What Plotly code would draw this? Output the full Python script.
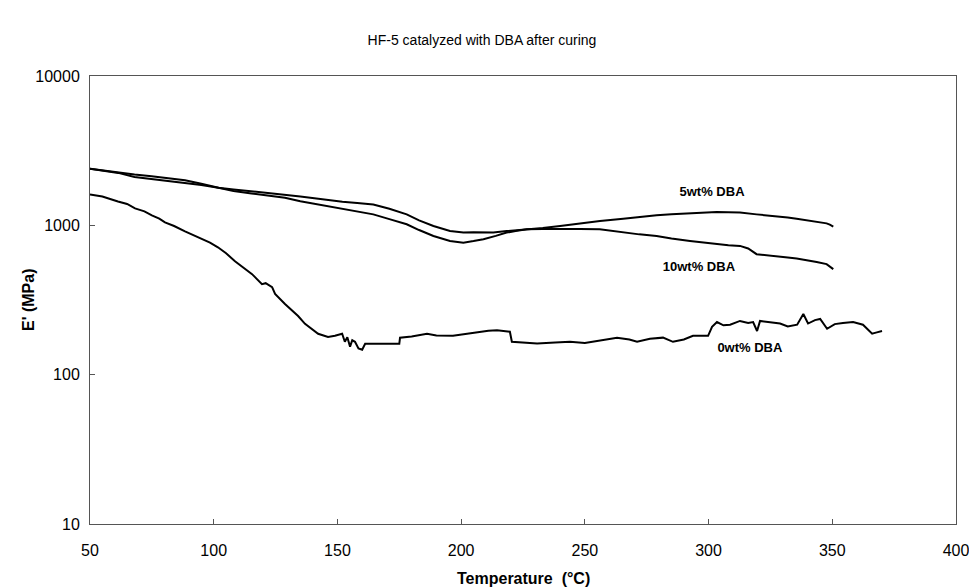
import plotly.graph_objects as go

# ---- data ----
x_0wt = [50, 55, 61.3, 65, 68.2, 72, 75, 78, 80.3, 84, 88.4, 92, 95.3, 98.5, 101.7, 105, 108.6, 112, 115.5,
         119.5, 121, 123.6, 124.8, 128.8, 131, 134.1, 136.9, 139, 142.2, 146.2, 149, 151.9, 153, 154, 155.1,
         156, 157.1, 158.5, 160, 161.2, 169.2, 175, 175.3, 180, 186.2, 190, 196.7, 202, 207.6, 211, 214.5,
         219.7, 220.5, 225, 230.7, 238, 244, 250, 256, 263, 268, 271.1, 276.3, 281.6, 285.6, 290, 293.7,
         299.8, 301.4, 303.4, 306, 308.7, 312.7, 316, 318, 319.6, 320.8, 325, 328.9, 332, 335.8, 338.3,
         340.2, 343, 345.1, 347.9, 351, 354.3, 358.4, 362.4, 366.1, 368, 370.1]
y_0wt = [1610, 1560, 1445, 1390, 1298, 1240, 1166, 1110, 1047, 990, 912, 860, 807, 765, 713, 650, 575, 520, 471,
         404, 410, 386, 347, 297, 275, 247, 219, 205, 188, 179, 182, 188, 166, 178, 154,
         170, 166, 150, 147, 161, 161, 161, 177, 180, 188, 183, 182, 188, 194, 197, 198,
         194, 166, 164, 162, 164, 166, 163, 170, 177, 172, 166, 174, 177, 166, 172, 182,
         182, 209, 225, 214, 216, 229, 222, 225, 196, 229, 224, 220, 210, 216, 255,
         220, 232, 236, 203, 218, 222, 225, 216, 188, 192, 196]

x_5wt = [50, 55, 61.4, 68, 74.9, 81, 88.4, 95, 101.9, 108, 115.3, 122, 128.8, 135, 142.3, 147, 152, 158, 164.5,
         171, 178, 183, 188.8, 195.5, 200.9, 205, 209, 213, 218.4, 222, 226.5, 233, 240, 248, 256.1, 265.5,
         272, 279, 285, 292.5, 298, 303.3, 308, 312.7, 319.4, 323, 327.5, 332, 335.6, 340, 343.7, 347.7,
         349, 350.4]
y_5wt = [2390, 2330, 2245, 2190, 2133, 2070, 2004, 1900, 1783, 1740, 1693, 1650, 1610, 1560, 1507, 1470, 1440,
         1410, 1380, 1290, 1184, 1080, 989, 916, 894, 900, 902, 895, 916, 925, 940, 960, 989, 1030, 1069, 1108,
         1140, 1166, 1185, 1202, 1215, 1227, 1222, 1218, 1184, 1170, 1153, 1130, 1108, 1080, 1052, 1031,
         1010, 980]

x_10wt = [50, 55, 61.4, 68, 74.9, 81, 88.4, 95, 101.9, 108, 115.3, 122, 128.8, 135, 142.3, 147, 153, 158, 164.5,
          171, 178, 183, 188.8, 195.5, 200.9, 205, 209, 214, 218.4, 222, 226.5, 233, 240, 248, 256, 265.5,
          272, 279, 285, 292.5, 298, 303.3, 308, 312.7, 316, 319.4, 323, 327.5, 332, 335.6, 340, 343.7, 347.7,
          349, 350.4]
y_10wt = [2390, 2320, 2245, 2110, 2047, 1985, 1927, 1860, 1783, 1700, 1634, 1580, 1530, 1450, 1380, 1330, 1270,
          1230, 1184, 1100, 1016, 930, 849, 785, 766, 785, 807, 850, 894, 915, 940, 945, 940, 945, 940, 894,
          870, 849, 815, 785, 765, 747, 735, 728, 700, 641, 630, 618, 608, 600, 585, 569, 550,
          530, 509]

label_text = ["5wt% DBA", "10wt% DBA", "0wt% DBA"]
label_x = [301.4, 296.1, 316.7]
label_y = [1660, 517, 149]

x_ticks = [50, 100, 150, 200, 250, 300, 350, 400]
y_ticks = [10, 100, 1000, 10000]

FONT = "Liberation Sans, Arial, sans-serif"

W, H = 969, 588
fig = go.Figure()
for xs, ys, name in [(x_0wt, y_0wt, "0wt% DBA"), (x_5wt, y_5wt, "5wt% DBA"), (x_10wt, y_10wt, "10wt% DBA")]:
    fig.add_trace(go.Scatter(x=xs, y=ys, mode="lines", name=name,
                             line=dict(color="black", width=2), showlegend=False))

fig.add_trace(go.Scatter(x=label_x, y=label_y, mode="text", text=label_text,
                         textfont=dict(family=FONT, size=13, color="black", weight="bold"),
                         showlegend=False, hoverinfo="skip"))

fig.update_layout(
    width=W, height=H,
    margin=dict(l=90, r=13, t=76, b=64),
    paper_bgcolor="white", plot_bgcolor="white",
    font=dict(family=FONT, color="black"),
    title=dict(text="HF-5 catalyzed with DBA after curing", x=482 / W, xanchor="center",
               y=1 - 40 / H, yanchor="middle", yref="container",
               font=dict(family=FONT, size=14, color="black")),
    annotations=[
        dict(text="Temperature  (°C)", xref="paper", yref="paper", x=0.5, y=-54 / 448,
             xanchor="center", yanchor="middle", showarrow=False,
             font=dict(family=FONT, size=16, color="black", weight="bold")),
        dict(text="E' (MPa)", xref="paper", yref="paper", x=-62 / 866, y=0.5, textangle=-90,
             xanchor="center", yanchor="middle", showarrow=False,
             font=dict(family=FONT, size=16, color="black", weight="bold")),
    ],
)
fig.update_xaxes(range=[50, 400], tickvals=x_ticks, ticktext=[str(v) for v in x_ticks], automargin=False,
                 showgrid=False, zeroline=False, showline=True, linecolor="#555", linewidth=1, mirror=True,
                 ticks="inside", ticklen=5, tickcolor="#555", ticklabelstandoff=12,
                 ticklabeloverflow="allow",
                 tickfont=dict(family=FONT, size=16, color="black"))
fig.update_yaxes(type="log", range=[1, 4], tickvals=y_ticks, ticktext=[str(v) for v in y_ticks], automargin=False,
                 showgrid=False, zeroline=False, showline=True, linecolor="#555", linewidth=1, mirror=True,
                 ticks="inside", ticklen=5, tickcolor="#555", ticklabelstandoff=6,
                 ticklabeloverflow="allow",
                 tickfont=dict(family=FONT, size=16, color="black"))

fig.write_html("out.html", config={"displayModeBar": False},
               post_script="document.body.style.margin='0';document.body.style.overflow='hidden';")
